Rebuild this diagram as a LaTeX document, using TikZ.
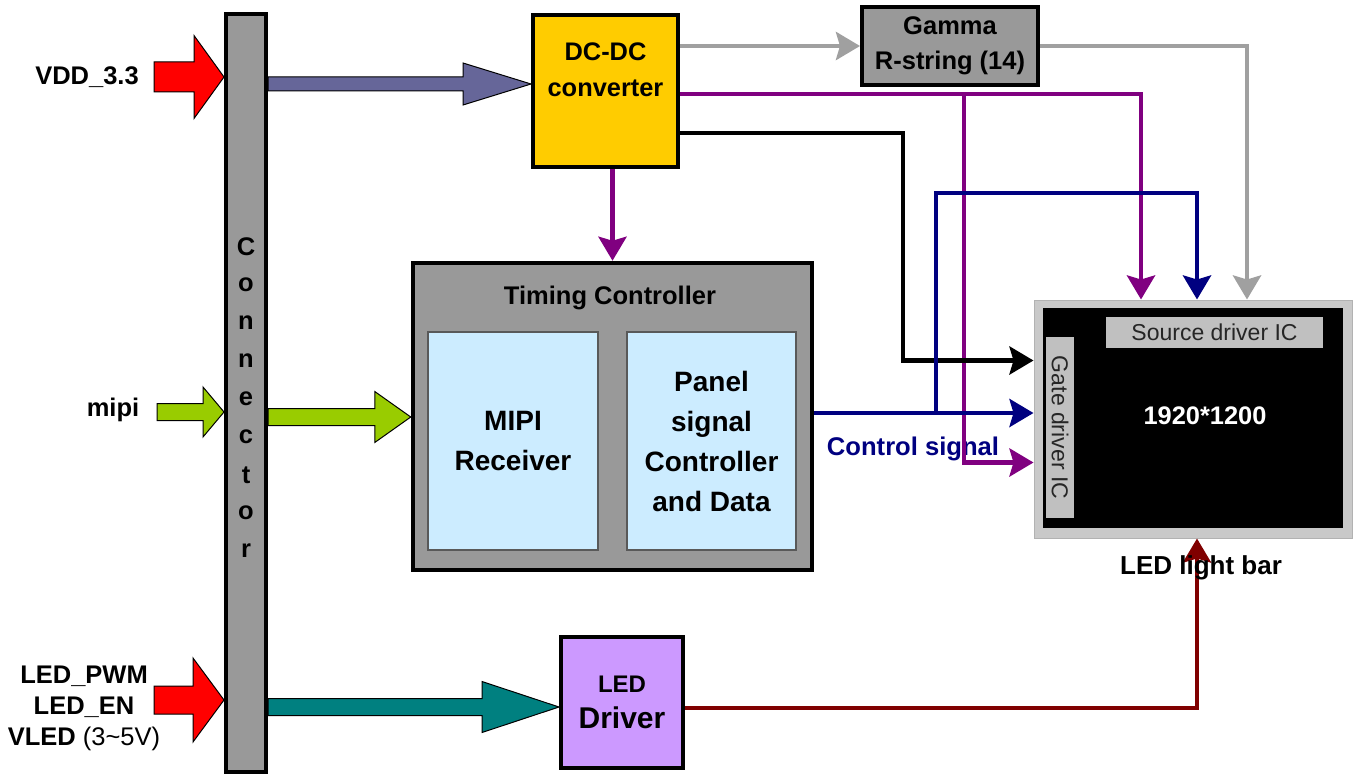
\documentclass[tikz,border=0pt]{standalone}
\usepackage{fontspec}
\setmainfont{Liberation Sans}
\usetikzlibrary{arrows.meta,calc}
\definecolor{boxgray}{HTML}{999999}
\definecolor{wiregray}{HTML}{A0A0A0}
\definecolor{dcyellow}{HTML}{FFCC00}
\definecolor{rxblue}{HTML}{CCECFF}
\definecolor{ledviolet}{HTML}{CC99FF}
\definecolor{wirepurple}{HTML}{800080}
\definecolor{wireblue}{HTML}{000080}
\definecolor{wirered}{HTML}{800000}
\definecolor{inred}{HTML}{FF0000}
\definecolor{ingreen}{HTML}{99CC00}
\definecolor{slate}{HTML}{666699}
\definecolor{ledteal}{HTML}{008080}
\definecolor{icgray}{HTML}{C0C0C0}
\tikzstyle{block} = [rectangle, draw, line width=4pt, inner sep=0pt, align=center,
    font=\bfseries\fontsize{25.4}{36}\selectfont]
\tikzstyle{block_in} = [rectangle, draw=black!65, line width=2pt, fill=rxblue,
    minimum width=170pt, minimum height=218pt, inner sep=0pt, align=center,
    font=\bfseries\fontsize{28}{40}\selectfont]
\tikzstyle{ic} = [rectangle, fill=icgray, inner sep=0pt, text=black!85,
    font=\fontsize{23}{26}\selectfont]
\tikzstyle{tag} = [align=center, inner sep=0pt, font=\bfseries\fontsize{25.5}{31}\selectfont]
\tikzstyle{line} = [draw, line width=4.5pt, -{Stealth[length=24pt,width=28pt,inset=4pt]}]
% fat arrow: start, tip, half shaft, half head, head length, fill
\newcommand{\fatarrow}[6]{%
  \filldraw[fill=#6, draw=black, line width=1pt] let \p1=#1, \p2=#2 in
    (\x1,\y1+#3) -- (\x2-#5,\y1+#3) -- (\x2-#5,\y1+#4) -- (\x2,\y1)
    -- (\x2-#5,\y1-#4) -- (\x2-#5,\y1-#3) -- (\x1,\y1-#3) -- cycle;}
\begin{document}
\begin{tikzpicture}[x=1pt, y=-1pt]
    \path [fill=white] (0,0) rectangle (1358,776);
    \useasboundingbox (0,0) rectangle (1358,776);
    % Place nodes
    \node [block, fill=boxgray, minimum width=40pt, minimum height=758pt] (conn) at (246,393) {};
    \foreach \ch [count=\i from 0] in {C,o,n,n,e,c,t,o,r}
        \node [tag] (conn\i) at (246,247+38*\i) {\ch};
    \node [block, fill=dcyellow, minimum width=145pt, minimum height=152pt] (dcdc) at (605.5,91) {};
    \node [tag, font=\bfseries\fontsize{25.4}{36}\selectfont] (dcdctxt) at ([yshift=21pt]dcdc.center) {DC-DC\\converter};
    \node [block, fill=boxgray, minimum width=176pt, minimum height=78pt,
        font=\bfseries\fontsize{25.5}{35}\selectfont] (gamma) at (950,46) {Gamma\\R-string (14)};
    \node [block, fill=boxgray, line width=4.5pt, minimum width=399pt, minimum height=307pt] (tcon) at (612.5,416.5) {};
    \node [tag] (tctitle) at (610,298) {Timing Controller};
    \node [block_in] (mipirx) at (513,441) {MIPI\\Receiver};
    \node [block_in, minimum width=169pt] (psig) at (711.5,441) {Panel\\signal\\Controller\\and Data};
    \node [rectangle, fill=icgray!85, draw=black!30, line width=1pt, minimum width=318pt, minimum height=238pt] (panel) at (1193,419) {};
    \node [rectangle, fill=black, minimum width=300pt, minimum height=220pt] (screen) at (1193,418) {};
    \node [ic, minimum width=217pt, minimum height=31pt] (src) at (1214.5,332.5) {Source driver IC};
    \node [ic, rotate=-90, minimum width=181pt, minimum height=28pt] (gate) at (1060,427.5) {Gate driver IC};
    \node [tag, text=white, font=\bfseries\fontsize{25.4}{30}\selectfont] (res) at (1205,416) {1920*1200};
    \node [tag, text=wireblue, font=\bfseries\fontsize{25.6}{30}\selectfont] (ctltxt) at (913,449) {Control signal};
    \node [block, fill=ledviolet, minimum width=122pt, minimum height=131pt] (led) at (622,702.5)
        {{\fontsize{24}{30}\selectfont LED}\\{\fontsize{30}{35}\selectfont Driver}};
    \node [tag] (vddtxt) at (87,77) {VDD\_3.3};
    \node [tag] (mipitxt) at (113,410) {mipi};
    \node [tag] (ledtxt) at (84,708) {LED\_PWM\\LED\_EN\\VLED {\mdseries(3\textasciitilde5V)}};

    \coordinate (vddrow) at (154,77);
    \coordinate (mipirow) at (157,412);
    \coordinate (ledrow) at (154,700);
    \coordinate (dcrow) at (400,84);
    \coordinate (tcrow) at (340,417);
    \coordinate (ldrow) at (420,707);
    \coordinate (pj) at (964,94);
    \coordinate (bk) at (903,250);
    \coordinate (ctl) at (936,413);
    \coordinate (bt) at (1000,193);

    % Fat arrows
    \fatarrow{(vddrow)}{(conn.west |- vddrow)}{15pt}{41.5pt}{30pt}{inred}
    \fatarrow{(mipirow)}{(conn.west |- mipirow)}{8.5pt}{25pt}{21pt}{ingreen}
    \fatarrow{(ledrow)}{(conn.west |- ledrow)}{14pt}{42pt}{31pt}{inred}
    \fatarrow{(conn.east |- dcrow)}{(dcdc.west |- dcrow)}{7pt}{21pt}{68pt}{slate}
    \fatarrow{(conn.east |- tcrow)}{(tcon.west |- tcrow)}{8.5pt}{25.5pt}{36pt}{ingreen}
    \fatarrow{(conn.east |- ldrow)}{(led.west |- ldrow)}{8.5pt}{25.5pt}{77pt}{ledteal}

    % Draw edges
    \path [line, wiregray] (dcdc.east |- gamma.west) -- (gamma.west);
    \path [line, wiregray] (gamma.east) -| ([xshift=54pt]panel.north);
    \path [line, wirepurple] (tcon.north |- dcdc.south) -- (tcon.north);
    \path [line, wirepurple] ([yshift=-3pt]dcdc.east) -| ([xshift=-52pt]panel.north);
    \path [line, wirepurple] (pj) |- ([yshift=-43.5pt]panel.west);
    \path [line] ([yshift=-42pt]dcdc.east) -| (bk) |- ([yshift=58.5pt]panel.west);
    \path [line, wireblue] (tcon.east |- ctl) -- (panel.west |- ctl);
    \path [line, wireblue] (ctl) |- (bt) -| ([xshift=4pt]panel.north);
    \path [line, wirered] ([yshift=-5.5pt]led.east) -| ([xshift=4pt]panel.south);

    \node [tag, font=\bfseries\fontsize{26}{30}\selectfont] (lightbar) at (1201,568) {LED light bar};
\end{tikzpicture}
\end{document}
